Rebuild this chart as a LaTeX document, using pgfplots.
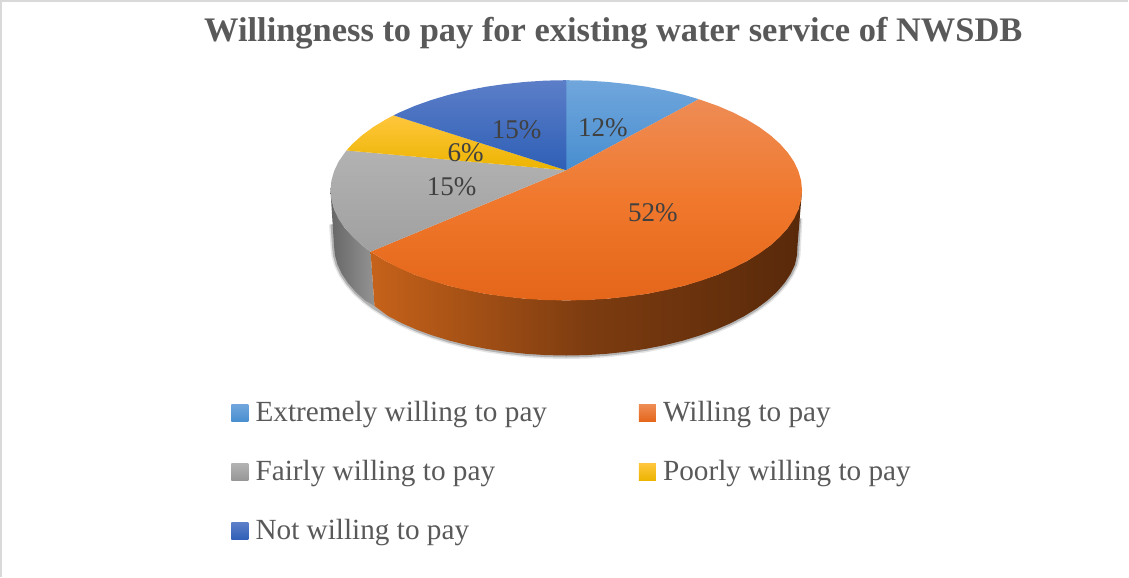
\documentclass[border=0pt]{standalone}
\usepackage{pgfplots}
\pgfplotsset{compat=1.18}
\usepackage{fontspec}
\setmainfont{Liberation Serif}
\definecolor{txt}{HTML}{595959}
\definecolor{lblc}{HTML}{404040}
\tikzset{
  lbl/.style={font=\fontsize{27}{27}\selectfont, text=lblc, inner sep=0pt},
  leg/.style={font=\fontsize{29.2}{29.2}\selectfont, text=txt, inner sep=0pt, anchor=base west},
}
\begin{document}
\begin{tikzpicture}
\begin{axis}[
  scale only axis, width=1129pt, height=578pt,
  xmin=-1.5, xmax=1127.5, ymin=-2, ymax=576, y dir=reverse,
  hide axis, clip=false,
]
% frame
\addplot[draw=black!15, line width=2.2pt] coordinates {(2,576) (2,1) (1127.5,1)};
% soft shadow of the wall
\addplot[draw=black, opacity=.10, line width=7pt] coordinates {(333,224) (334.5,245) (335.4,254.6) (338,264.1) (342.4,273.5) (348.5,282.6) (356.2,291.5) (365.6,300) (374.2,306.5) (388.8,315.7) (402.5,322.8) (417.4,329.3) (433.4,335.1) (450.5,340.3) (468.5,344.7) (487.2,348.4) (506.5,351.2) (526.2,353.3) (546.3,354.6) (566.5,355) (586.7,354.6) (606.8,353.3) (626.5,351.2) (645.8,348.4) (664.5,344.7) (682.5,340.3) (699.6,335.1) (715.6,329.3) (730.5,322.8) (744.2,315.7) (756.5,308.1) (767.4,300) (776.8,291.5) (784.5,282.6) (790.6,273.5) (795,264.1) (797,254.6) (797.5,245) (799,218)};
\addplot[draw=black, opacity=.22, line width=4pt] coordinates {(333,224) (334.5,245) (335.4,254.6) (338,264.1) (342.4,273.5) (348.5,282.6) (356.2,291.5) (365.6,300) (374.2,306.5) (388.8,315.7) (402.5,322.8) (417.4,329.3) (433.4,335.1) (450.5,340.3) (468.5,344.7) (487.2,348.4) (506.5,351.2) (526.2,353.3) (546.3,354.6) (566.5,355) (586.7,354.6) (606.8,353.3) (626.5,351.2) (645.8,348.4) (664.5,344.7) (682.5,340.3) (699.6,335.1) (715.6,329.3) (730.5,322.8) (744.2,315.7) (756.5,308.1) (767.4,300) (776.8,291.5) (784.5,282.6) (790.6,273.5) (795,264.1) (797,254.6) (797.5,245) (799,218)};
% side walls
\addplot[draw=none, left color=black!60, right color=black!42] coordinates {(331,190) (334.6,209.1) (345.2,227.6) (362.6,245) (371,251.3) (375,305.5) (365.6,300) (356.2,291.5) (348.5,282.6) (342.4,273.5) (338,264.1) (335.4,254.6) (334.5,245)} --cycle;
\addplot[draw=none, left color={rgb,255:red,198;green,98;blue,26}, right color={rgb,255:red,88;green,41;blue,10}, middle color={rgb,255:red,125;green,60;blue,16}] coordinates {(802,190) (798.4,209.1) (787.8,227.6) (770.4,245) (746.9,260.7) (717.9,274.3) (684.3,285.3) (647,293.4) (607.4,298.3) (566.5,300) (525.6,298.3) (486,293.4) (448.8,285.3) (415.1,274.3) (386.1,260.7) (371,251.3) (375,305.5) (388.8,315.7) (402.5,322.8) (417.4,329.3) (433.4,335.1) (450.5,340.3) (468.5,344.7) (487.2,348.4) (506.5,351.2) (526.2,353.3) (546.3,354.6) (566.5,355) (586.7,354.6) (606.8,353.3) (626.5,351.2) (645.8,348.4) (664.5,344.7) (682.5,340.3) (699.6,335.1) (715.6,329.3) (730.5,322.8) (744.2,315.7) (756.5,308.1) (767.4,300) (776.8,291.5) (784.5,282.6) (790.6,273.5) (795,264.1) (797,254.6) (797.5,245)} --cycle;
% top slices
\addplot[draw=none, top color={rgb,255:red,112;green,166;blue,220}, bottom color={rgb,255:red,72;green,142;blue,208}] coordinates {(566.5,170) (566.5,80) (587,80.4) (607.4,81.7) (627.4,83.8) (647,86.6) (666,90.3) (684.3,94.7) (698.9,99)} --cycle;
\addplot[draw=none, top color={rgb,255:red,238;green,140;blue,85}, bottom color={rgb,255:red,228;green,102;blue,26}, middle color={rgb,255:red,240;green,120;blue,44}] coordinates {(566.5,170) (698.9,99) (717.9,105.7) (733,112.2) (746.9,119.3) (759.4,126.9) (770.4,135) (779.9,143.5) (787.8,152.4) (794,161.5) (798.4,170.9) (801.1,180.4) (802,190) (801.1,199.6) (798.4,209.1) (794,218.5) (787.8,227.6) (779.9,236.5) (770.4,245) (759.4,253.1) (746.9,260.7) (733,267.8) (717.9,274.3) (701.6,280.1) (684.3,285.3) (666,289.7) (647,293.4) (627.4,296.2) (607.4,298.3) (587,299.6) (566.5,300) (546,299.6) (525.6,298.3) (505.6,296.2) (486,293.4) (467,289.7) (448.8,285.3) (431.4,280.1) (415.1,274.3) (400,267.8) (386.1,260.7) (371,251.3)} --cycle;
\addplot[draw=none, top color={rgb,255:red,178;green,178;blue,178}, bottom color={rgb,255:red,160;green,160;blue,160}] coordinates {(566.5,170) (371,251.3) (362.6,245) (353.1,236.5) (345.2,227.6) (339,218.5) (334.6,209.1) (331.9,199.6) (331,190) (331.9,180.4) (334.6,170.9) (339,161.5) (346.9,150.2)} --cycle;
\addplot[draw=none, top color={rgb,255:red,255;green,198;blue,60}, bottom color={rgb,255:red,236;green,180;blue,0}] coordinates {(566.5,170) (346.9,150.2) (353.1,143.5) (362.6,135) (373.6,126.9) (386.1,119.3) (394,115.1)} --cycle;
\addplot[draw=none, top color={rgb,255:red,92;green,126;blue,200}, bottom color={rgb,255:red,46;green,95;blue,182}] coordinates {(566.5,170) (394,115.1) (400,112.2) (415.1,105.7) (431.4,99.9) (448.8,94.7) (467,90.3) (486,86.6) (505.6,83.8) (525.6,81.7) (546,80.4) (566.5,80)} --cycle;
% legend swatches
\addplot[draw=none, top color={rgb,255:red,112;green,166;blue,220}, bottom color={rgb,255:red,72;green,142;blue,208}] coordinates {(232,404) (249,404) (249,421) (232,421)} --cycle;
\addplot[draw=none, top color={rgb,255:red,238;green,140;blue,85}, bottom color={rgb,255:red,228;green,102;blue,26}] coordinates {(639,404) (656,404) (656,421) (639,421)} --cycle;
\addplot[draw=none, top color={rgb,255:red,178;green,178;blue,178}, bottom color={rgb,255:red,150;green,150;blue,150}] coordinates {(232,463) (249,463) (249,480) (232,480)} --cycle;
\addplot[draw=none, top color={rgb,255:red,255;green,198;blue,60}, bottom color={rgb,255:red,236;green,180;blue,0}] coordinates {(639,463) (656,463) (656,480) (639,480)} --cycle;
\addplot[draw=none, top color={rgb,255:red,92;green,126;blue,200}, bottom color={rgb,255:red,46;green,95;blue,182}] coordinates {(232,522) (249,522) (249,539) (232,539)} --cycle;
% labels
\node[lbl] at (axis cs:603,127) {12\%};
\node[lbl] at (axis cs:653,212) {52\%};
\node[lbl] at (axis cs:452,186) {15\%};
\node[lbl] at (axis cs:466,152) {6\%};
\node[lbl] at (axis cs:517,129) {15\%};
% title
\node[font=\fontsize{34.4}{34.4}\selectfont\bfseries, text=txt, inner sep=0pt, anchor=base] at (axis cs:613.5,41) {Willingness to pay for existing water service of NWSDB};
% legend text
\node[leg] at (axis cs:256,421) {Extremely willing to pay};
\node[leg] at (axis cs:663,421) {Willing to pay};
\node[leg] at (axis cs:256,480) {Fairly willing to pay};
\node[leg] at (axis cs:663,480) {Poorly willing to pay};
\node[leg] at (axis cs:256,539) {Not willing to pay};
\end{axis}
\end{tikzpicture}
\end{document}
